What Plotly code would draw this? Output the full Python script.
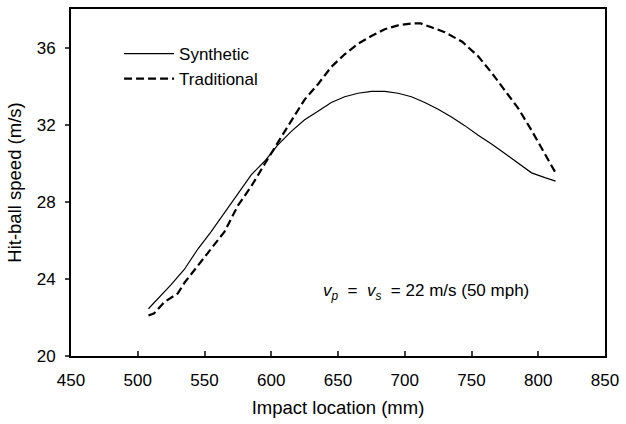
import plotly.graph_objects as go

syn_x = [508, 515, 525, 535, 545, 555, 565, 575, 585, 595, 605, 615, 625, 635, 645, 655, 665, 675,
         685, 695, 705, 715, 725, 735, 745, 755, 765, 775, 785, 795, 805, 813]
syn_y = [22.45, 22.95, 23.7, 24.5, 25.55, 26.45, 27.45, 28.45, 29.4, 30.1, 30.95, 31.65, 32.25, 32.7,
         33.15, 33.45, 33.63, 33.73, 33.73, 33.63, 33.45, 33.15, 32.8, 32.4, 31.95, 31.45, 31.0, 30.5,
         30.0, 29.5, 29.25, 29.07]

trad_x = [508, 512, 520, 530, 535, 545, 555, 565, 575, 585, 595, 605, 615, 625, 635, 645, 655, 665,
          675, 685, 695, 705, 712, 720, 730, 743, 755, 765, 775, 785, 795, 805, 813]
trad_y = [22.1, 22.2, 22.8, 23.25, 23.8, 24.7, 25.55, 26.45, 27.8, 28.8, 29.95, 31.1, 32.2, 33.3, 34.1,
          35.0, 35.65, 36.2, 36.6, 36.95, 37.15, 37.25, 37.25, 37.05, 36.8, 36.3, 35.55, 34.7, 33.8,
          32.85, 31.7, 30.5, 29.5]

x_ticks = [450, 500, 550, 600, 650, 700, 750, 800, 850]
y_ticks = [20, 24, 28, 32, 36]

FONT = "Arial, Liberation Sans, sans-serif"
FS = 17
TFS = 18.5

fig = go.Figure()
fig.add_trace(go.Scatter(x=syn_x, y=syn_y, mode="lines", name="Synthetic",
                         line=dict(color="black", width=1.2)))
fig.add_trace(go.Scatter(x=trad_x, y=trad_y, mode="lines", name="Traditional",
                         line=dict(color="black", width=2.2, dash="8px,4px")))

fig.add_annotation(x=637, y=23.3, xref="x", yref="y", xanchor="left", yanchor="middle",
                   text="<i>v</i><sub><i>p</i></sub>  =  <i>v</i><sub><i>s</i></sub>  = 22 m/s (50 mph)",
                   showarrow=False, font=dict(family=FONT, size=FS, color="black"))

fig.update_layout(
    width=626, height=424,
    margin=dict(l=71, r=17, t=7, b=68),
    paper_bgcolor="white", plot_bgcolor="white",
    font=dict(family=FONT, size=FS, color="black"),
    showlegend=True,
    legend=dict(x=0.09, y=0.922, xanchor="left", yanchor="top", bgcolor="rgba(0,0,0,0)",
                font=dict(family=FONT, size=FS), itemwidth=50, tracegroupgap=0),
    xaxis=dict(range=[450, 850], tickvals=x_ticks, ticks="inside", ticklen=5, tickwidth=1.5,
               showgrid=False, zeroline=False, showline=True, linecolor="black", linewidth=2,
               mirror=True, ticklabelstandoff=8,
               title=dict(text="Impact location (mm)", font=dict(size=TFS), standoff=12)),
    yaxis=dict(range=[20, 38], tickvals=y_ticks, ticks="outside", ticklen=4, tickwidth=1.5,
               showgrid=False, zeroline=False, showline=True, linecolor="black", linewidth=2,
               mirror=True, ticklabelstandoff=6,
               title=dict(text="Hit-ball speed (m/s)", font=dict(size=TFS), standoff=10)),
)

fig.write_html("out.html")
